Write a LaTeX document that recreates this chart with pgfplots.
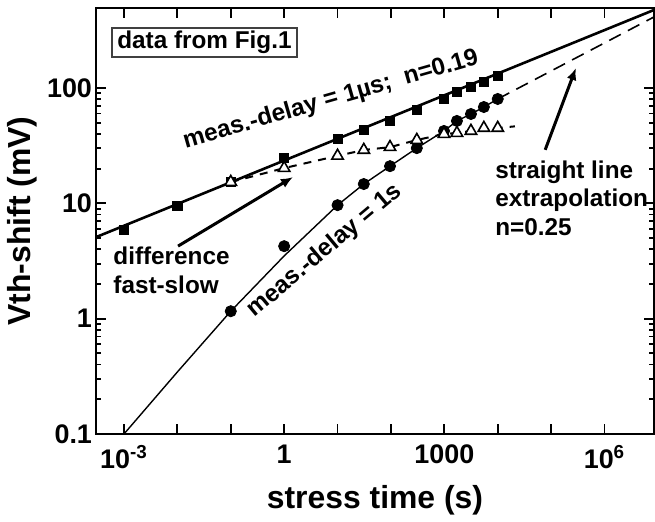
\documentclass[border=0pt]{standalone}
\usepackage{pgfplots}
\pgfplotsset{compat=1.18}
\usepackage{pgfplotstable}
\usepackage{fontspec}
\setmainfont{Liberation Sans}
\usetikzlibrary{arrows.meta}

% threshold-voltage shift, measurement delay 1 us
\pgfplotstableread{
t V
0.001 5.85
0.01 9.46
0.1 15.3
1 24.7
10 36.1
31 43.2
96 51.8
305 64.4
985 80.3
1720 92.3
3150 102
5500 113
10000 127
}\fastdata

% threshold-voltage shift, measurement delay 1 s
\pgfplotstableread{
t V
0.1 1.16
1 4.25
10 9.64
31 14.7
96 21.0
305 30.1
985 42.4
1720 51.8
3150 59.5
5500 68.4
10000 80.3
}\slowdata

% difference fast - slow
\pgfplotstableread{
t V
0.1 15.3
1 20.2
10 25.8
31 29.0
96 30.7
305 35.4
985 39.9
1720 40.7
3150 42.4
5500 45.0
10000 45.0
}\diffdata

\newcommand{\annfont}{\bfseries\fontsize{12.2}{14.5}\selectfont}

\begin{document}
\begin{tikzpicture}
\begin{axis}[
  name=ax,
  xmode=log, ymode=log,
  scale only axis,
  width=279bp, height=213bp,
  xmin=2.99e-4, xmax=8.45e6,
  ymin=0.1, ymax=494,
  axis line style={line width=1bp},
  every tick/.style={black, line width=0.9bp},
  tick align=inside,
  xtick pos=both, ytick pos=both,
  major tick length=5bp,
  minor tick length=2.5bp,
  xminorticks=false,
  xtick={1e-3,1e-2,1e-1,1,10,100,1000,1e4,1e5,1e6},
  xticklabels={{10\textsuperscript{-3}},{},{},1,{},{},1000,{},{},{10\textsuperscript{6}}},
  ytick={0.1,1,10,100},
  yticklabels={0.1,1,10,100},
  ticklabel style={font=\bfseries\fontsize{13.5}{14}\selectfont},
  xticklabel style={yshift=-2bp},
  yticklabel style={xshift=1.5bp},
  xlabel={stress time (s)},
  ylabel={Vth-shift (mV)},
  label style={font=\bfseries\fontsize{16}{18}\selectfont},
  xlabel style={yshift=-1.5bp},
  ylabel style={yshift=-2bp},
]
% power-law fit through the fast data, n = 0.19
\addplot[line width=1.3bp] coordinates {(2.99e-4,5.09) (8.45e6,475)};
% straight-line extrapolation of the slow data, n = 0.25
\addplot[line width=0.8bp, dash pattern=on 6.5bp off 4bp] coordinates {(10000,80.3) (8.45e6,413)};
% model curve for the slow data
\addplot[line width=0.7bp] coordinates {
  (0.001,0.1) (0.01,0.345) (0.1,1.16) (1,3.5) (10,9.64) (31,14.7) (96,21.0)
  (305,30.1) (985,42.4) (1720,51.8) (3150,59.5) (5500,68.4) (10000,80.3)};
% difference trend line
\addplot[line width=1bp, dash pattern=on 4bp off 3.5bp] coordinates {
  (0.1,15.3) (1,20.2) (10,25.8) (31,29.0) (96,30.7) (305,35.4) (985,39.9)
  (1720,40.7) (3150,42.4) (5500,45.0) (10000,45.0) (21000,46.5)};

\addplot[only marks, mark=square*, mark size=2.3bp, black] table {\fastdata};
\addplot[only marks, mark=*, mark size=2.8bp, black] table {\slowdata};
\addplot[only marks, mark=triangle*, mark size=3.3bp,
  mark options={fill=white, draw=black, line width=0.8bp}] table {\diffdata};

% annotations
\node[draw=black!75, line width=0.6bp, minimum width=92.5bp, minimum height=14.5bp,
  inner sep=0pt, fill=white, font=\annfont] at (rel axis cs:0.1944,0.919) {data from Fig.1};
\node[rotate=16, font=\annfont] at (rel axis cs:0.421,0.784) {meas.-delay = 1µs;\ \ n=0.19};
\node[rotate=40, font=\annfont] at (rel axis cs:0.410,0.430) {meas.-delay = 1s};
\node[anchor=north west, align=left, inner sep=0pt, font=\annfont]
  at (rel axis cs:0.0305,0.439) {difference\\fast-slow};
\node[anchor=north west, align=left, inner sep=0pt, font=\annfont]
  at (rel axis cs:0.715,0.643) {straight line\\extrapolation\\n=0.25};
\draw[line width=1.5bp, -{Latex[length=6bp,width=5bp]}]
  (rel axis cs:0.147,0.441) -- (rel axis cs:0.353,0.603);
\draw[line width=1.5bp, -{Latex[length=6bp,width=5bp]}]
  (rel axis cs:0.805,0.667) -- (rel axis cs:0.860,0.859);
\end{axis}
\path[use as bounding box] ([xshift=-48bp,yshift=-41bp]ax.south west)
  rectangle ([xshift=0.5bp,yshift=4bp]ax.north east);
\end{tikzpicture}
\end{document}
